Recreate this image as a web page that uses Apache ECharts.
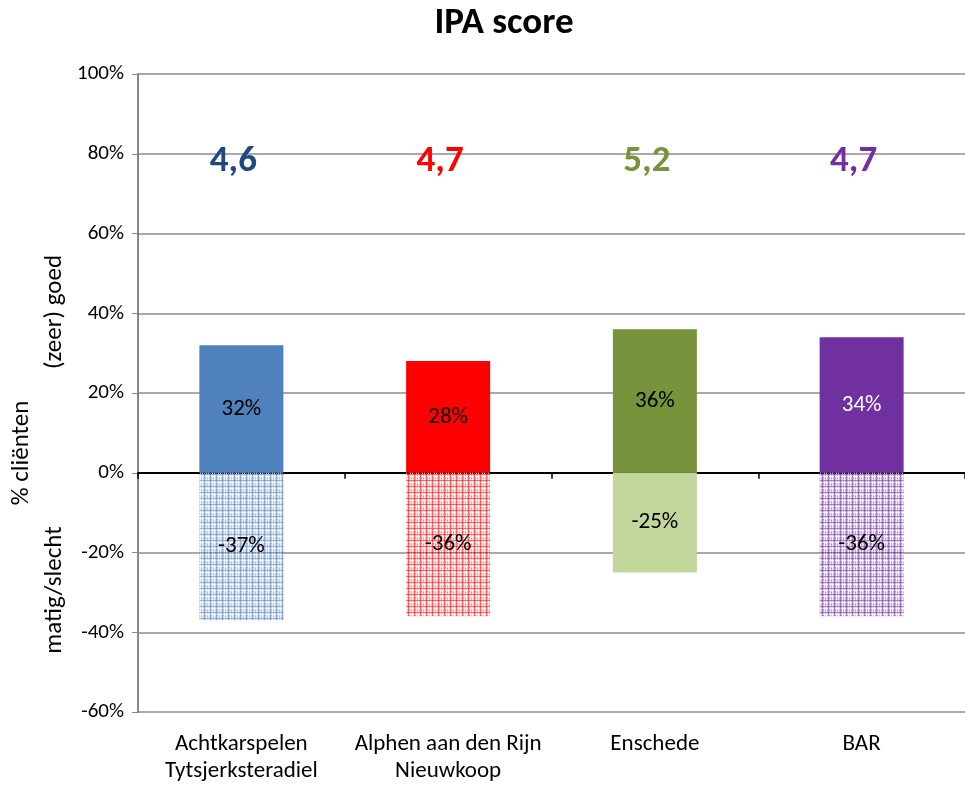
<!DOCTYPE html>
<html>
<head>
<meta charset="utf-8">
<script src="https://cdn.jsdelivr.net/npm/echarts@6/dist/echarts.min.js"></script>
<style>
  html, body { margin: 0; padding: 0; background: #fff; }
  #main { width: 965px; height: 785px; }
</style>
</head>
<body>
<div id="main"></div>
<script>
var FONT = 'Carlito, Calibri, Lato, sans-serif';

// data
var categories = ['Achtkarspelen\nTytsjerksteradiel', 'Alphen aan den Rijn\nNieuwkoop', 'Enschede', 'BAR'];
var goed = [32, 28, 36, 34];
var slecht = [-37, -36, -25, -36];
var scores = [4.6, 4.7, 5.2, 4.7];
var scoreLevel = 78;   // hoogte (%) waar de IPA-score staat
var yTicks = [-60, -40, -20, 0, 20, 40, 60, 80, 100];

// kleuren
var barColors = ['#4F81BD', '#FF0000', '#77933C', '#7030A0'];
var scoreColors = ['#1F497D', '#FF0000', '#77933C', '#7030A0'];
var labelColors = ['#000', '#000', '#000', '#fff'];

// gestippeld patroon zoals in Excel
function makePattern(color, tint){
    var c = document.createElement('canvas');
    c.width = 6; c.height = 6;
    var ctx = c.getContext('2d');
    ctx.fillStyle = tint;
    ctx.fillRect(0, 0, 6, 6);
    ctx.fillStyle = 'rgba(255,255,255,0.7)';
    ctx.fillRect(2, 0, 1, 6);
    ctx.fillRect(0, 2, 6, 1);
    ctx.fillRect(4, 0, 1, 6);
    ctx.fillStyle = color;
    ctx.globalAlpha = 0.5;
    ctx.fillRect(0, 0, 1, 6);
    ctx.fillRect(0, 0, 6, 1);
    ctx.globalAlpha = 0.35;
    ctx.fillRect(3, 4, 1, 1);
    ctx.fillRect(1, 3, 1, 1);
    return c;
}

var negColors = [
    {image: makePattern('#4F81BD', 'rgba(79,129,189,0.32)'), repeat: 'repeat'},
    {image: makePattern('#FF0000', 'rgba(255,0,0,0.26)'), repeat: 'repeat'},
    '#C3D69B',
    {image: makePattern('#7030A0', 'rgba(112,48,160,0.32)'), repeat: 'repeat'}
];

var myChart = echarts.init(document.getElementById('main'));

var option = {
    backgroundColor: '#fff',
    animation: false,
    title: {
        text: 'IPA score',
        left: 499,
        textAlign: 'center',
        top: 0,
        textStyle: {fontFamily: FONT, fontSize: 37, fontWeight: 'bold', color: '#000'}
    },
    grid: {left: 138, top: 74, width: 840, height: 639},
    xAxis: [
        {
            type: 'category',
            data: categories,
            axisLine: {onZero: true, lineStyle: {color: '#000', width: 2}},
            axisTick: {show: true, interval: 0, length: 6, lineStyle: {color: '#000', width: 1.5}},
            axisLabel: {show: false}
        },
        {
            type: 'category',
            data: categories,
            position: 'bottom',
            axisLine: {show: false, onZero: false},
            axisTick: {show: false},
            axisLabel: {
                interval: 0, margin: 19, color: '#000',
                fontFamily: FONT, fontSize: 23, lineHeight: 27
            }
        }
    ],
    yAxis: {
        type: 'value',
        min: -60, max: 100, interval: 20,
        axisLine: {show: true, lineStyle: {color: '#868686', width: 2}},
        axisTick: {show: true, length: 6, lineStyle: {color: '#868686'}},
        axisLabel: {
            color: '#000', fontFamily: FONT, fontSize: 21, margin: 14,
            formatter: function(v){ return yTicks.indexOf(v) >= 0 ? v + '%' : ''; }
        },
        splitLine: {show: true, lineStyle: {color: '#8C8C8C', width: 1.5}}
    },
    graphic: [
        {type: 'text', x: 22, y: 453, rotation: Math.PI / 2,
         style: {text: '% cliënten', font: '25px ' + FONT, fill: '#000', align: 'center', verticalAlign: 'middle'}},
        {type: 'text', x: 55, y: 312, rotation: Math.PI / 2,
         style: {text: '(zeer) goed', font: '25px ' + FONT, fill: '#000', align: 'center', verticalAlign: 'middle'}},
        {type: 'text', x: 55, y: 590, rotation: Math.PI / 2,
         style: {text: 'matig/slecht', font: '25px ' + FONT, fill: '#000', align: 'center', verticalAlign: 'middle'}}
    ],
    series: [
        {
            name: 'goed',
            type: 'bar',
            stack: 'ipa',
            barWidth: 84,
            data: goed.map(function(v, i){
                return {value: v, itemStyle: {color: barColors[i]},
                        label: {color: labelColors[i]}};
            }),
            label: {
                show: true, position: 'inside', fontFamily: FONT, fontSize: 23,
                formatter: function(p){ return p.value + '%'; }
            }
        },
        {
            name: 'slecht',
            type: 'bar',
            stack: 'ipa',
            barWidth: 84,
            data: slecht.map(function(v, i){
                return {value: v, itemStyle: {color: negColors[i]}};
            }),
            label: {
                show: true, position: 'inside', color: '#000', fontFamily: FONT, fontSize: 23,
                formatter: function(p){ return p.value + '%'; }
            }
        },
        {
            name: 'score',
            type: 'scatter',
            symbolSize: 0,
            silent: true,
            itemStyle: {opacity: 1},
            data: scores.map(function(v, i){
                return {value: [i, scoreLevel], score: v,
                        label: {color: scoreColors[i]}};
            }),
            label: {
                show: true, position: 'inside', offset: [-8, 0],
                fontFamily: FONT, fontSize: 37, fontWeight: 'bold', opacity: 1,
                formatter: function(p){ return p.data.score.toFixed(1).replace('.', ','); }
            }
        }
    ]
};

myChart.setOption(option);
</script>
</body>
</html>
